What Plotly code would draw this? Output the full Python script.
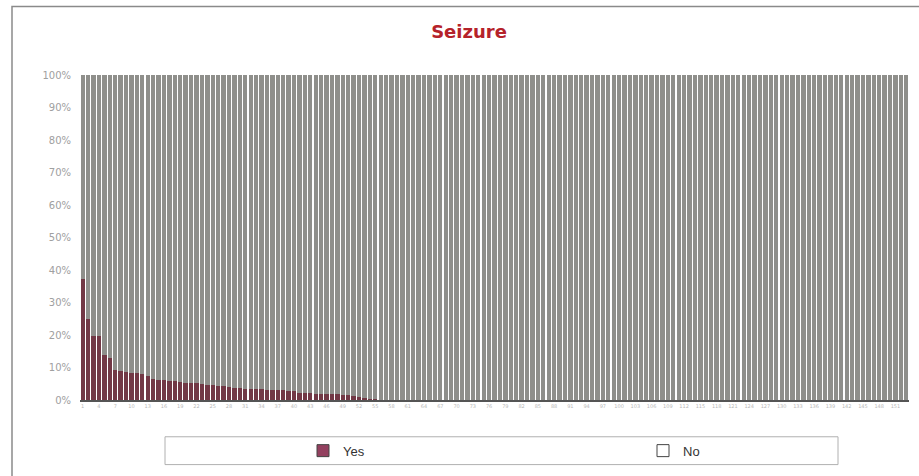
import plotly.graph_objects as go

title_text = "Seizure"
series_names = ["Yes", "No"]

# share of "Yes" (percent) per category 1..153
yes_pct = [
    37.3, 24.8, 19.8, 19.7, 14.0, 12.8, 9.2, 9.0, 8.6, 8.4,
    8.3, 8.1, 7.5, 6.6, 6.3, 6.1, 5.8, 5.7, 5.6, 5.3,
    5.2, 5.1, 5.0, 4.6, 4.5, 4.4, 4.3, 4.1, 3.7, 3.7,
    3.5, 3.5, 3.3, 3.3, 3.1, 3.1, 3.0, 3.0, 2.9, 2.8,
    2.3, 2.2, 2.1, 2.0, 1.9, 1.8, 1.8, 1.7, 1.5, 1.4,
    1.2, 1.0, 0.7, 0.4, 0.2, 0, 0, 0, 0, 0,
    0, 0, 0, 0, 0, 0, 0, 0, 0, 0,
    0, 0, 0, 0, 0, 0, 0, 0, 0, 0,
    0, 0, 0, 0, 0, 0, 0, 0, 0, 0,
    0, 0, 0, 0, 0, 0, 0, 0, 0, 0,
    0, 0, 0, 0, 0, 0, 0, 0, 0, 0,
    0, 0, 0, 0, 0, 0, 0, 0, 0, 0,
    0, 0, 0, 0, 0, 0, 0, 0, 0, 0,
    0, 0, 0, 0, 0, 0, 0, 0, 0, 0,
    0, 0, 0, 0, 0, 0, 0, 0, 0, 0,
    0, 0, 0,
]
categories = list(range(1, len(yes_pct) + 1))
no_pct = [round(100 - v, 1) for v in yes_pct]  # complement in a 100% stacked chart

x_tick_vals = list(range(1, 152, 3))
y_tick_vals = [0, 10, 20, 30, 40, 50, 60, 70, 80, 90, 100]

YES_COLOR = "#723845"
NO_COLOR = "#8f8f8b"

fig = go.Figure()
fig.add_trace(go.Bar(x=categories, y=yes_pct, name=series_names[0],
                     marker=dict(color=YES_COLOR, line=dict(width=0)),
                     showlegend=False, hoverinfo="x+y"))
fig.add_trace(go.Bar(x=categories, y=no_pct, name=series_names[1],
                     marker=dict(color=NO_COLOR, line=dict(width=0)),
                     showlegend=False, hoverinfo="x+y"))
# legend swatches (one legend per entry so each sits where the original puts it)
fig.add_trace(go.Bar(x=[None], y=[None], name=series_names[0], legend="legend",
                     marker=dict(color="#93405f", line=dict(color="#444", width=1))))
fig.add_trace(go.Bar(x=[None], y=[None], name=series_names[1], legend="legend2",
                     marker=dict(color="#ffffff", line=dict(color="#444", width=1))))

W, H = 919, 476
L, R, T, B = 80, 10, 75, 74
pw = W - L - R
ph = H - T - B

def px(x):
    return (x - L) / pw

def py(y):
    return (H - B - y) / ph

leg_font = dict(family="Liberation Sans", size=13, color="#333")
leg_common = dict(orientation="h", xanchor="left", yanchor="middle",
                  bgcolor="rgba(0,0,0,0)", font=leg_font, borderwidth=0)

fig.update_layout(
    width=W, height=H,
    margin=dict(l=L, r=R, t=T, b=B),
    paper_bgcolor="white", plot_bgcolor="white",
    barmode="stack", bargap=0.2,
    title=dict(text="<b>" + title_text + "</b>", xref="container", x=469 / W,
               xanchor="center", y=1 - 32 / H, yanchor="middle",
               font=dict(family="DejaVu Sans", size=18, color="#b5222a")),
    xaxis=dict(range=[0.5, len(categories) + 0.5], tickmode="array",
               tickvals=x_tick_vals, ticktext=[str(v) for v in x_tick_vals],
               tickangle=0, showgrid=False, zeroline=False,
               showline=True, linecolor="#555", linewidth=1.5, ticks="",
               tickfont=dict(family="DejaVu Sans", size=5, color="#b8b8b8")),
    yaxis=dict(range=[0, 100], tickmode="array", tickvals=y_tick_vals,
               ticktext=[f"{v}%" for v in y_tick_vals], showgrid=False,
               zeroline=False, showline=False, ticks="",
               ticklabelstandoff=8,
               tickfont=dict(family="DejaVu Sans", size=10, color="#a0a0a0")),
    legend=dict(x=px(303), y=py(453), **leg_common),
    legend2=dict(x=px(643), y=py(453), **leg_common),
    shapes=[
        dict(type="rect", xref="paper", yref="paper", x0=px(12), x1=px(930),
             y0=py(490), y1=py(6), line=dict(color="#8a8a8a", width=1.5),
             fillcolor="rgba(0,0,0,0)", layer="below"),
        dict(type="rect", xref="paper", yref="paper", x0=px(165), x1=px(838),
             y0=py(467), y1=py(439), line=dict(color="#b0b0b0", width=1),
             fillcolor="rgba(0,0,0,0)", layer="below"),
    ],
)

fig.write_html("out.html", config={"displayModeBar": False},
               post_script="document.body.style.margin='0';")
